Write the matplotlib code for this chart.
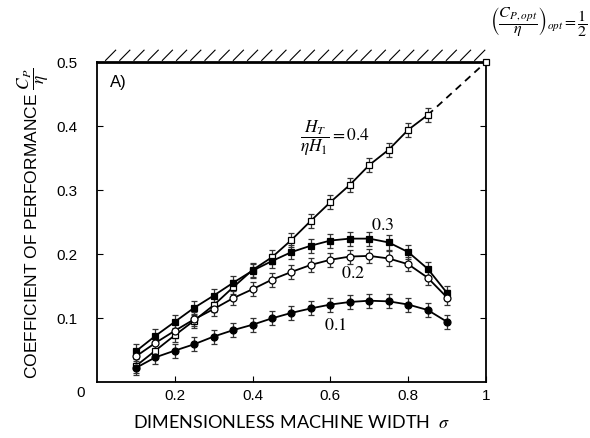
import numpy as np
import matplotlib
matplotlib.use("Agg")
import matplotlib.pyplot as plt

plt.rcParams['mathtext.fontset'] = 'stix'

sigma = [0.10, 0.15, 0.20, 0.25, 0.30, 0.35, 0.40, 0.45, 0.50,
         0.55, 0.60, 0.65, 0.70, 0.75, 0.80, 0.85, 0.90]
cp_04 = [0.025, 0.049, 0.073, 0.096, 0.120, 0.148, 0.175, 0.195, 0.222,
         0.252, 0.281, 0.308, 0.339, 0.363, 0.394, 0.417]
cp_03 = [0.048, 0.072, 0.094, 0.116, 0.135, 0.155, 0.174, 0.189, 0.203,
         0.213, 0.221, 0.224, 0.224, 0.218, 0.203, 0.177, 0.139]
cp_02 = [0.040, 0.061, 0.080, 0.098, 0.114, 0.131, 0.145, 0.160, 0.172,
         0.183, 0.191, 0.196, 0.197, 0.193, 0.184, 0.163, 0.132]
cp_01 = [0.022, 0.0385, 0.049, 0.059, 0.071, 0.081, 0.0895, 0.0995, 0.108,
         0.115, 0.121, 0.125, 0.127, 0.126, 0.121, 0.1125, 0.094]
err = 0.011
opt_point = (1.0, 0.5)

xticks = [0.2, 0.4, 0.6, 0.8, 1.0]
xticklabels = ['0.2', '0.4', '0.6', '0.8', '1']
yticks = [0.1, 0.2, 0.3, 0.4, 0.5]
yticklabels = ['0.1', '0.2', '0.3', '0.4', '0.5']

fig = plt.figure(figsize=(5.9, 4.39), dpi=100)
ax = fig.add_axes([0.1644, 0.1276, 0.8237 - 0.1644, 0.8565 - 0.1276])

ekw = dict(color='black', lw=1.3, ecolor='#333333', elinewidth=0.9,
           capsize=2.5, capthick=0.9, ms=5, mec='black', mew=0.9)

# dashed extension to optimum
ax.plot([sigma[len(cp_04) - 1], opt_point[0]], [cp_04[-1], opt_point[1]],
        ls=(0, (4, 3)), color='black', lw=1.3)
ax.plot([opt_point[0]], [opt_point[1]], marker='s', mfc='white', mec='black',
        ms=5, mew=0.9, clip_on=False, zorder=5)

ax.errorbar(sigma[:len(cp_04)], cp_04, yerr=err, marker='s', mfc='white', **ekw)
ax.errorbar(sigma, cp_03, yerr=err, marker='s', mfc='black', **ekw)
ax.errorbar(sigma, cp_02, yerr=err, marker='o', mfc='white', **ekw)
ax.errorbar(sigma, cp_01, yerr=err, marker='o', mfc='black', **ekw)

ax.set_xlim(0, 1)
ax.set_ylim(0, 0.5)
ax.set_xticks(xticks)
ax.set_xticklabels(xticklabels)
ax.set_yticks(yticks)
ax.set_yticklabels(yticklabels)
ax.tick_params(direction='in', length=4, width=0.8, labelsize=11,
               right=True, top=False)
ax.tick_params(axis='x', pad=4)
ax.tick_params(axis='y', pad=14)
for lab in ax.get_xticklabels() + ax.get_yticklabels():
    lab.set_fontfamily('Liberation Sans')
for s in ['left', 'bottom', 'right']:
    ax.spines[s].set_linewidth(1.3)
ax.spines['top'].set_linewidth(2.0)

ax.text(-0.03, -0.005, '0', transform=ax.transData, ha='right', va='top',
        fontsize=11, family='Liberation Sans')

# hatching above top spine
for xs in np.arange(0.035, 0.99, 0.0365):
    ax.plot([xs - 0.013, xs + 0.013], [1.005, 1.037], transform=ax.transAxes,
            color='black', lw=0.8, clip_on=False)

ax.text(0.054, 0.9375, 'A)', transform=ax.transAxes, fontsize=12,
        family='Liberation Sans', ha='center', va='center')

ax.text(0.612, 0.383, r'$\dfrac{H_T}{\eta H_1} = 0.4$', fontsize=12.5,
        ha='center', va='center')
ax.text(0.735, 0.247, '$0.3$', fontsize=13, ha='center', va='center')
ax.text(0.658, 0.172, '$0.2$', fontsize=13, ha='center', va='center')
ax.text(0.614, 0.090, '$0.1$', fontsize=13, ha='center', va='center')

fig.text(588 / 590, 1 - 22 / 439,
         r'$\left(\dfrac{C_{P,opt}}{\eta}\right)_{opt} = \dfrac{1}{2}$',
         fontsize=11.5, ha='right', va='center')

ax.set_xlabel(r'DIMENSIONLESS MACHINE WIDTH  $\sigma$', fontsize=13,
              family='Lato', labelpad=8)
ax.set_ylabel(r'COEFFICIENT OF PERFORMANCE $\dfrac{C_P}{\eta}$', fontsize=12.5,
              family='Liberation Sans', labelpad=4)

fig.savefig('out.png', dpi=100)
